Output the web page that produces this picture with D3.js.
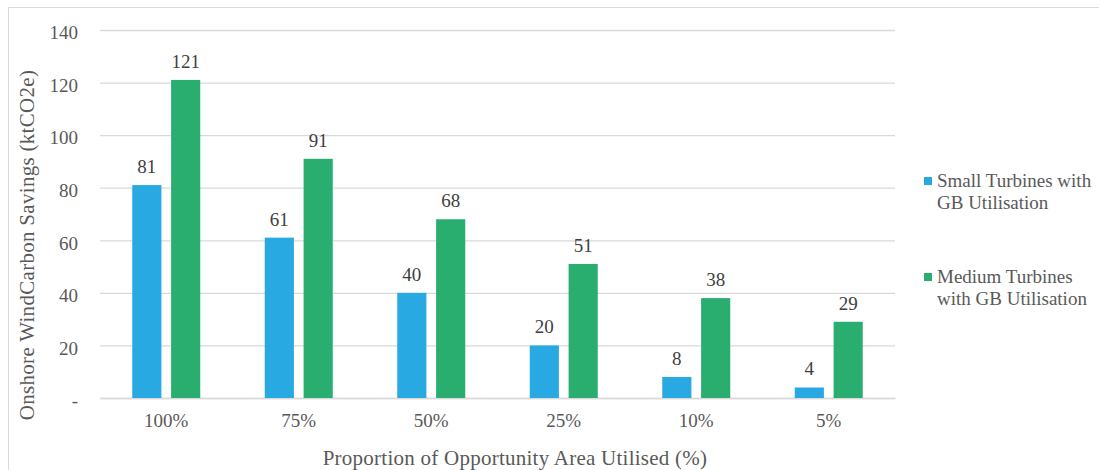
<!DOCTYPE html>
<html>
<head>
<meta charset="utf-8">
<script src="https://cdn.jsdelivr.net/npm/d3@7"></script>
<style>
  html, body { margin: 0; padding: 0; background: #fff; }
  svg { display: block; }
  svg text { font-family: "Liberation Serif", "DejaVu Serif", serif; }
</style>
</head>
<body>
<svg id="chart" width="1099" height="470"></svg>
<script>
// Categories and series values
const categories = ["100%", "75%", "50%", "25%", "10%", "5%"];
const smallTurbines = [81, 61, 40, 20, 8, 4];
const mediumTurbines = [121, 91, 68, 51, 38, 29];
const seriesNames = ["Small Turbines with GB Utilisation", "Medium Turbines with GB Utilisation"];
const legendLines = [["Small Turbines with", "GB Utilisation"], ["Medium Turbines", "with GB Utilisation"]];
const yTicks = [0, 20, 40, 60, 80, 100, 120, 140];

const colors = ["#29A9E1", "#29AE70"];
const textColor = "#595959";
const serif = "'Liberation Serif', 'DejaVu Serif', serif";

const svg = d3.select("#chart");
const W = 1099, H = 470;

// Outer chart frame (right and bottom edges run off the canvas)
svg.append("rect")
  .attr("x", 8.5).attr("y", 7.5)
  .attr("width", W + 10).attr("height", H + 10)
  .attr("fill", "#fff").attr("stroke", "#d9d9d9").attr("stroke-width", 1);

const plot = { left: 100, right: 895, top: 30, bottom: 398 };

const x = d3.scaleBand().domain(categories).range([plot.left, plot.right]).paddingInner(0).paddingOuter(0);
const x1 = d3.scaleBand().domain([0, 1]).range([-34, 34]).paddingInner(0.25);
const y = d3.scaleLinear().domain([0, 140]).range([plot.bottom, plot.top]);

// Gridlines and y tick labels
const yAxis = d3.axisLeft(y).tickValues(yTicks)
  .tickSize(-(plot.right - plot.left))
  .tickPadding(22)
  .tickFormat(d => d === 0 ? "-" : d);
const gy = svg.append("g").attr("transform", `translate(${plot.left},0)`).call(yAxis)
  .attr("font-family", serif);
gy.select(".domain").remove();
gy.selectAll(".tick line").attr("stroke", "#d9d9d9").attr("stroke-width", 1.3);
gy.selectAll(".tick text").attr("fill", textColor).attr("font-size", 19)
  .attr("dy", "0.46em").attr("font-family", serif);

// X axis labels
const xAxis = d3.axisBottom(x).tickSize(0).tickPadding(16);
const gx = svg.append("g").attr("transform", `translate(0,${plot.bottom})`).call(xAxis)
  .attr("font-family", serif);
gx.select(".domain").attr("stroke", "#d9d9d9").attr("stroke-width", 1.3);
gx.selectAll(".tick text").attr("fill", textColor).attr("font-size", 19).attr("font-family", serif);

// Bars with value labels
const seriesData = [smallTurbines, mediumTurbines];
seriesData.forEach((vals, si) => {
  const g = svg.append("g");
  g.selectAll("rect").data(vals).join("rect")
    .attr("x", (d, i) => x(categories[i]) + x.bandwidth() / 2 + x1(si))
    .attr("y", d => y(d))
    .attr("width", x1.bandwidth())
    .attr("height", d => y(0) - y(d))
    .attr("fill", colors[si]);
  g.selectAll("text").data(vals).join("text")
    .attr("x", (d, i) => x(categories[i]) + x.bandwidth() / 2 + x1(si) + x1.bandwidth() / 2)
    .attr("y", d => y(d) - 12)
    .attr("text-anchor", "middle")
    .attr("fill", "#404040")
    .attr("font-family", serif)
    .attr("font-size", 19)
    .text(d => d);
});

// Axis titles
svg.append("text")
  .attr("x", 515).attr("y", 465)
  .attr("text-anchor", "middle").attr("fill", textColor)
  .attr("font-family", serif).attr("font-size", 21)
  .style("letter-spacing", "0.25px")
  .text("Proportion of Opportunity Area Utilised (%)");

svg.append("text")
  .attr("transform", "translate(34,245) rotate(-90)")
  .attr("text-anchor", "middle").attr("fill", textColor)
  .attr("font-family", serif).attr("font-size", 21)
  .style("letter-spacing", "0.3px")
  .text("Onshore WindCarbon Savings (ktCO2e)");

// Legend
const legend = svg.append("g");
const legendY = [187, 283];
seriesNames.forEach((name, i) => {
  const item = legend.append("g").attr("aria-label", name);
  item.append("rect").attr("x", 924).attr("y", legendY[i] - 10)
    .attr("width", 8).attr("height", 8).attr("fill", colors[i]);
  legendLines[i].forEach((line, j) => {
    item.append("text").attr("x", 937).attr("y", legendY[i] + j * 22)
      .attr("fill", textColor).attr("font-family", serif).attr("font-size", 19).text(line);
  });
});
</script>
</body>
</html>
